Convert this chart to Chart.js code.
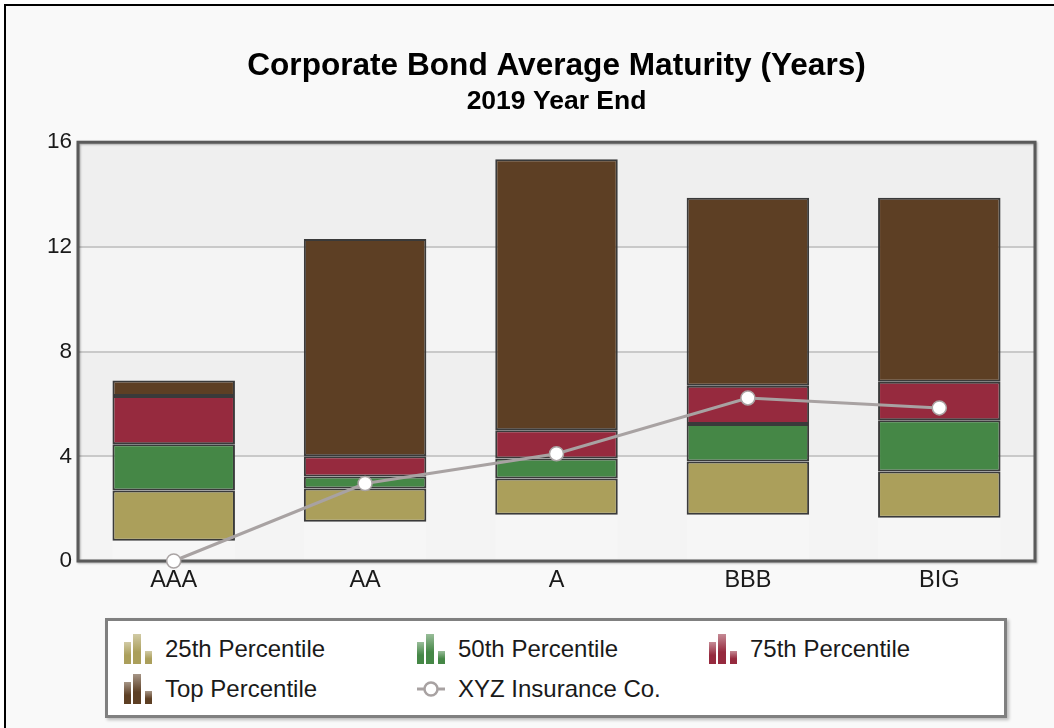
<!DOCTYPE html>
<html>
<head>
<meta charset="utf-8">
<title>Corporate Bond Average Maturity</title>
<script src="https://cdn.jsdelivr.net/npm/chart.js@4.4.0/dist/chart.umd.min.js"></script>
<style>
  html, body { margin: 0; padding: 0; background: #fff; overflow: hidden; }
  #frame {
    position: absolute; left: 4px; top: 4px; width: 1100px; height: 800px;
    border-left: 2px solid #000; border-top: 2px solid #000; background: #f9f9f9;
  }
  #wrap { position: absolute; left: 0; top: 0; width: 1054px; height: 600px; }
  #legend {
    position: absolute; left: 105px; top: 618px; width: 896px; height: 94px;
    background: #fff; border: 3px solid #808080;
    box-shadow: 2px 2px 3px rgba(0,0,0,0.25);
    font-family: "Liberation Sans", Arial, sans-serif;
    font-size: 24px; color: #1a1a1a;
  }
  .item { position: absolute; height: 34px; display: flex; align-items: center; white-space: nowrap; }
  .item svg { margin-right: 12px; }
</style>
</head>
<body>
<div id="frame"></div>
<div id="wrap"><canvas id="maturityChart"></canvas></div>
<div id="legend"></div>

<script>
// DATA
const categories = ["AAA", "AA", "A", "BBB", "BIG"];
const minValues = [0.77, 1.5, 1.77, 1.77, 1.65];
const p25Values = [2.69, 2.77, 3.15, 3.8, 3.42];
const p50Values = [4.46, 3.23, 3.92, 5.23, 5.38];
const p75Values = [6.3, 4.0, 5.0, 6.7, 6.85];
const topValues = [6.9, 12.3, 15.35, 13.88, 13.88];
const xyzValues = [0, 2.96, 4.1, 6.23, 5.85];
const yTicks = [0, 4, 8, 12, 16];

const FONT = '"Liberation Sans", Arial, sans-serif';

function ranges(lo, hi) {
  return lo.map((v, i) => [v, hi[i]]);
}

function barSet(label, lo, hi, color) {
  return {
    type: "bar",
    label: label,
    data: ranges(lo, hi),
    backgroundColor: color,
    borderColor: "#3a3a3a",
    borderWidth: 2,
    borderSkipped: false,
    grouped: false,
    barPercentage: 0.64,
    categoryPercentage: 1,
    order: 2
  };
}

// PLOT BACKGROUND, COLUMN SHADE, FRAME
const plotDecor = {
  id: "plotDecor",
  beforeDraw(chart) {
    const { ctx, chartArea: a, scales: { y } } = chart;
    ctx.save();
    for (let i = 0; i < yTicks.length - 1; i++) {
      const y0 = y.getPixelForValue(yTicks[i]);
      const y1 = y.getPixelForValue(yTicks[i + 1]);
      ctx.fillStyle = i % 2 ? "#efefef" : "#f4f4f4";
      ctx.fillRect(a.left, y1, a.width, y0 - y1);
    }
    ctx.restore();
  },
  beforeDatasetsDraw(chart) {
    const { ctx, chartArea: a } = chart;
    ctx.save();
    ctx.fillStyle = "rgba(255,255,255,0.22)";
    chart.getDatasetMeta(0).data.forEach(bar => {
      const low = Math.max(bar.base, bar.y);
      ctx.fillRect(bar.x - bar.width / 2, low, bar.width, a.bottom - low);
    });
    ctx.shadowColor = "rgba(0,0,0,0.3)";
    ctx.shadowBlur = 2;
    ctx.shadowOffsetX = 1;
    ctx.shadowOffsetY = 1;
    ctx.strokeStyle = "#5a5a5a";
    ctx.lineWidth = 3;
    ctx.strokeRect(a.left, a.top, a.width, a.height);
    ctx.restore();
  }
};

const chart = new Chart(document.getElementById("maturityChart"), {
  data: {
    labels: categories,
    datasets: [
      barSet("25th Percentile", minValues, p25Values, "#ab9f5b"),
      barSet("50th Percentile", p25Values, p50Values, "#458746"),
      barSet("75th Percentile", p50Values, p75Values, "#962a3e"),
      barSet("Top Percentile", p75Values, topValues, "#5d3f24"),
      {
        type: "line",
        label: "XYZ Insurance Co.",
        data: xyzValues,
        borderColor: "#a8a2a2",
        borderWidth: 3,
        pointRadius: 7,
        pointBackgroundColor: "#fff",
        pointBorderColor: "#aaa4a4",
        pointBorderWidth: 1.5,
        tension: 0,
        clip: false,
        order: 0
      }
    ]
  },
  options: {
    responsive: true,
    maintainAspectRatio: false,
    animation: false,
    layout: { padding: { left: 0, right: 19, top: 0, bottom: 0 } },
    plugins: {
      legend: { display: false },
      tooltip: { enabled: false },
      // fullSize false -> titles are centred over the plot area
      title: {
        display: true,
        fullSize: false,
        text: "Corporate Bond Average Maturity (Years)",
        color: "#000",
        font: { family: FONT, size: 31.6, weight: "bold", lineHeight: 1.2 },
        padding: { top: 47, bottom: 0 }
      },
      subtitle: {
        display: true,
        fullSize: false,
        text: "2019 Year End",
        color: "#000",
        font: { family: FONT, size: 26.5, weight: "bold", lineHeight: 1.2 },
        padding: { top: 1, bottom: 24.5 }
      }
    },
    scales: {
      x: {
        offset: true,
        grid: { display: false, drawTicks: false },
        border: { display: false },
        ticks: { color: "#1a1a1a", padding: 5, font: { family: FONT, size: 23.5 } },
        afterFit: s => { s.height = 39; }
      },
      y: {
        min: 0,
        max: 16,
        afterBuildTicks: s => { s.ticks = yTicks.map(v => ({ value: v })); },
        grid: { color: "#c9c9c9", lineWidth: 2, drawTicks: false },
        border: { display: false },
        ticks: { color: "#1a1a1a", padding: 6, font: { family: FONT, size: 22.5 } },
        afterFit: s => { s.width = 78; }
      }
    }
  },
  plugins: [plotDecor]
});

// LEGEND (HTML, from the chart's datasets)
function legendIcon(ds) {
  if (ds.type === "line") {
    return '<svg width="30" height="30" viewBox="0 0 30 30">' +
      '<line x1="1" y1="15" x2="29" y2="15" stroke="' + ds.borderColor + '" stroke-width="3"/>' +
      '<circle cx="15" cy="15" r="6.5" fill="#fff" stroke="' + ds.borderColor + '" stroke-width="2.5"/></svg>';
  }
  const id = "g" + Math.random().toString(36).slice(2);
  return '<svg width="30" height="30" viewBox="0 0 30 30"><defs>' +
    '<linearGradient id="' + id + '" x1="0" y1="0" x2="0" y2="1">' +
    '<stop offset="0" stop-color="' + ds.backgroundColor + '" stop-opacity="0.55"/>' +
    '<stop offset="0.6" stop-color="' + ds.backgroundColor + '"/></linearGradient></defs>' +
    '<rect x="1" y="8" width="7" height="22" fill="url(#' + id + ')"/>' +
    '<rect x="10" y="0" width="8" height="30" fill="url(#' + id + ')"/>' +
    '<rect x="22" y="17" width="7" height="13" fill="url(#' + id + ')"/></svg>';
}

const legendEl = document.getElementById("legend");
const colX = [15, 308, 600];
const rowY = [11, 51];
chart.data.datasets.forEach((ds, i) => {
  const item = document.createElement("div");
  item.className = "item";
  item.style.left = colX[i % 3] + "px";
  item.style.top = rowY[Math.floor(i / 3)] + "px";
  item.innerHTML = legendIcon(ds) + "<span>" + ds.label + "</span>";
  legendEl.appendChild(item);
});
</script>
</body>
</html>
